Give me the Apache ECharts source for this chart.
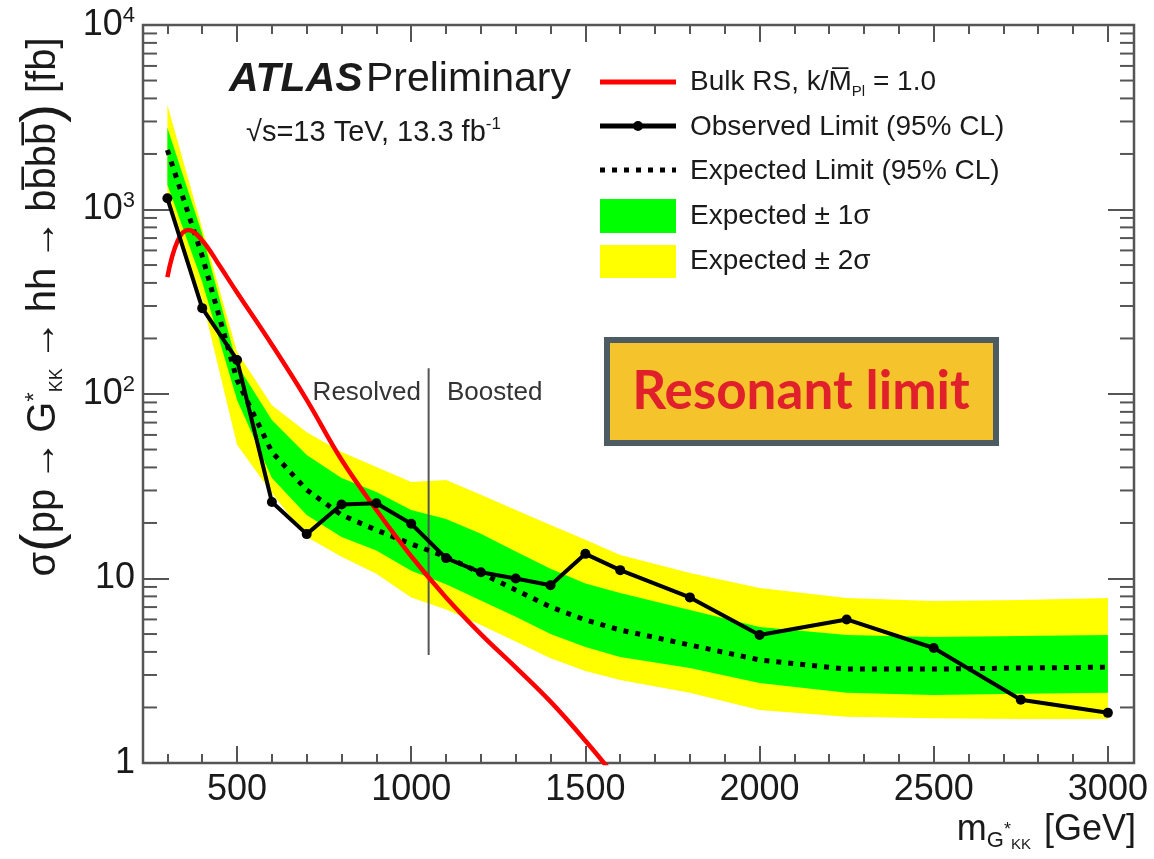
<!DOCTYPE html>
<html>
<head>
<meta charset="utf-8">
<script src="https://cdn.jsdelivr.net/npm/echarts@6/dist/echarts.min.js"></script>
<style>
  html, body { margin: 0; padding: 0; background: #ffffff; }
  #chart { width: 1154px; height: 859px; }
</style>
</head>
<body>
<div id="chart"></div>
<script>
// Graviton mass points (GeV) and 95% CL limits on sigma(pp -> G*KK -> hh -> bbbb) in fb
const massPoints    = [300, 400, 500, 600, 700, 800, 900, 1000, 1100, 1200, 1300, 1400, 1500, 1600, 1800, 2000, 2250, 2500, 2750, 3000];
const observedLimit = [1150, 292, 153, 26, 17.4, 25.2, 25.6, 19.8, 12.9, 10.8, 10.0, 9.2, 13.6, 11.1, 7.9, 4.94, 6.0, 4.2, 2.2, 1.87];
const expectedLimit = [2100, 560, 119, 48.5, 30.2, 22.1, 18.3, 15.4, 13.1, 10.7, 8.67, 7.01, 5.96, 5.26, 4.36, 3.62, 3.23, 3.23, 3.27, 3.31];
const oneSigmaUp    = [2770, 737, 144, 72.3, 46.7, 35.1, 29.4, 23.5, 21.0, 17.5, 14.0, 11.3, 9.4, 8.35, 6.75, 5.46, 4.94, 4.82, 4.88, 4.94];
const oneSigmaDown  = [1360, 405, 92.8, 35.1, 22.1, 16.8, 14.2, 11.0, 9.3, 7.6, 6.2, 5.0, 4.25, 3.75, 3.27, 2.71, 2.40, 2.34, 2.37, 2.40];
const twoSigmaUp    = [3700, 790, 169, 87, 62, 48.5, 40.2, 33.3, 34.2, 28.4, 23.5, 19.5, 16.2, 13.4, 10.7, 8.88, 7.84, 7.55, 7.65, 7.84];
const twoSigmaDown  = [1150, 323, 53, 29.1, 16.8, 13.1, 10.6, 7.9, 6.8, 5.6, 4.55, 3.7, 3.15, 2.82, 2.40, 1.94, 1.78, 1.75, 1.73, 1.73];

// Bulk RS theory prediction, k/M_Pl = 1.0
const bulkRSMass = [300, 330, 360, 400, 450, 500, 600, 700, 800, 900, 1000, 1100, 1200, 1300, 1400, 1500, 1600];
const bulkRSXsec = [430, 680, 775, 680, 495, 355, 185, 93, 44, 23.5, 13.2, 7.9, 5.0, 3.3, 2.15, 1.32, 0.78];

// Resolved / boosted analysis boundary
const boundaryMass = [1050, 1050];
const boundaryXsec = [138, 3.85];

// Axis ranges and tick values
const xRange = [230, 3075];
const yRange = [1, 10000];
const xMajorTicks = [500, 1000, 1500, 2000, 2500, 3000];
const xMinorTicks = [300, 400, 600, 700, 800, 900, 1100, 1200, 1300, 1400, 1600, 1700, 1800, 1900,
                     2100, 2200, 2300, 2400, 2600, 2700, 2800, 2900];
const yMinorTicks = [2, 3, 4, 5, 6, 7, 8, 9, 20, 30, 40, 50, 60, 70, 80, 90,
                     200, 300, 400, 500, 600, 700, 800, 900, 2000, 3000, 4000, 5000, 6000, 7000, 8000, 9000];

const FONT = '"Liberation Sans", Arial, Helvetica, sans-serif';
const AXIS = '#555555';
const TEXT = '#1a1a1a';

const chart = echarts.init(document.getElementById('chart'), null, { renderer: 'canvas' });

function pairs(xs, ys) { return xs.map((x, i) => [x, ys[i]]); }

function band(name, upper, lower, color, z) {
  return {
    type: 'custom', name, xAxisIndex: 0, yAxisIndex: 0, silent: true, z,
    data: [[massPoints[0], upper[0]]],
    renderItem: (params, api) => {
      const pts = [];
      for (let i = 0; i < massPoints.length; i++) pts.push(api.coord([massPoints[i], upper[i]]));
      for (let i = massPoints.length - 1; i >= 0; i--) pts.push(api.coord([massPoints[i], lower[i]]));
      return { type: 'polygon', shape: { points: pts }, style: { fill: color } };
    }
  };
}

function xAxisDef(position, ticks, len, labels) {
  return {
    type: 'value', position, min: xRange[0], max: xRange[1],
    axisLine: { show: false },
    splitLine: { show: false },
    axisTick: { show: true, inside: true, length: len, customValues: ticks, lineStyle: { color: AXIS, width: 2 } },
    axisLabel: labels ? {
      show: true, customValues: ticks, margin: 9, fontSize: 36, fontFamily: FONT, color: TEXT,
      formatter: v => String(Math.round(v))
    } : { show: false }
  };
}

const option = {
  animation: false,
  backgroundColor: '#ffffff',
  grid: {
    left: 143, top: 25, width: 991, height: 738,
    show: true, borderColor: AXIS, borderWidth: 2.5, backgroundColor: 'transparent'
  },
  xAxis: [
    xAxisDef('bottom', xMajorTicks, 17, true),
    xAxisDef('bottom', xMinorTicks, 9, false),
    xAxisDef('top', xMajorTicks, 17, false),
    xAxisDef('top', xMinorTicks, 9, false)
  ],
  yAxis: [
    {
      type: 'log', logBase: 10, position: 'left', min: yRange[0], max: yRange[1],
      axisLine: { show: false }, splitLine: { show: false },
      axisTick: { show: true, inside: true, length: 26, lineStyle: { color: AXIS, width: 2 } },
      axisLabel: {
        show: true, margin: 8, showMinLabel: true, showMaxLabel: true, color: TEXT,
        fontFamily: FONT, fontSize: 36,
        formatter: v => {
          const p = Math.round(Math.log10(v));
          return p < 2 ? '{n|' + Math.round(v) + '}' : '{n|10}{s|' + p + '}';
        },
        rich: {
          n: { fontSize: 36, fontFamily: FONT, color: TEXT, lineHeight: 40 },
          s: { fontSize: 22, fontFamily: FONT, color: TEXT, verticalAlign: 'top', lineHeight: 40 }
        }
      }
    },
    {
      type: 'log', logBase: 10, position: 'right', min: yRange[0], max: yRange[1],
      axisLine: { show: false }, splitLine: { show: false },
      axisTick: { show: true, inside: true, length: 26, lineStyle: { color: AXIS, width: 2 } },
      axisLabel: { show: false }
    }
  ],
  series: [
    band('Expected ± 2σ', twoSigmaUp, twoSigmaDown, '#ffff00', 1),
    band('Expected ± 1σ', oneSigmaUp, oneSigmaDown, '#00ff00', 2),
    {
      name: 'Expected Limit (95% CL)', type: 'line', z: 4,
      data: pairs(massPoints, expectedLimit), symbol: 'none',
      lineStyle: { color: '#000000', width: 5, type: [5, 7], cap: 'butt' }
    },
    {
      name: 'Bulk RS', type: 'line', z: 5, smooth: 0.4,
      data: pairs(bulkRSMass, bulkRSXsec), symbol: 'none',
      lineStyle: { color: '#ff0000', width: 4.5 }
    },
    {
      name: 'Observed Limit (95% CL)', type: 'line', z: 6,
      data: pairs(massPoints, observedLimit), symbol: 'circle', symbolSize: 10,
      itemStyle: { color: '#000000' }, lineStyle: { color: '#000000', width: 4 }
    },
    {
      name: 'boundary', type: 'line', z: 3,
      data: pairs(boundaryMass, boundaryXsec), symbol: 'none',
      lineStyle: { color: '#555555', width: 2 }
    },
    {
      // minor log ticks on the left and right frame edges
      name: 'yMinorTicks', type: 'custom', silent: true, z: 10,
      data: yMinorTicks.map(v => [xRange[0], v]),
      renderItem: (params, api) => {
        const v = api.value(1);
        const l = api.coord([xRange[0], v]);
        const r = api.coord([xRange[1], v]);
        return {
          type: 'group', children: [
            { type: 'line', shape: { x1: l[0], y1: l[1], x2: l[0] + 14, y2: l[1] }, style: { stroke: AXIS, lineWidth: 2 } },
            { type: 'line', shape: { x1: r[0], y1: r[1], x2: r[0] - 14, y2: r[1] }, style: { stroke: AXIS, lineWidth: 2 } }
          ]
        };
      }
    }
  ],
  graphic: [
    // experiment label
    {
      type: 'text', x: 229, y: 80, z: 20,
      style: {
        text: '{a|ATLAS} {b|Preliminary}', textVerticalAlign: 'middle',
        rich: {
          a: { fontSize: 41, fontFamily: FONT, fontWeight: 'bold', fontStyle: 'italic', fill: TEXT },
          b: { fontSize: 41, fontFamily: FONT, fill: TEXT }
        }
      }
    },
    {
      type: 'text', x: 246, y: 133, z: 20,
      style: {
        text: '{t|√s=13 TeV, 13.3 fb}{s|-1}', textVerticalAlign: 'middle',
        rich: {
          t: { fontSize: 29, fontFamily: FONT, fill: TEXT, lineHeight: 34 },
          s: { fontSize: 17, fontFamily: FONT, fill: TEXT, verticalAlign: 'top', lineHeight: 34 }
        }
      }
    },
    // legend
    { type: 'line', z: 20, shape: { x1: 600, y1: 82, x2: 676, y2: 82 }, style: { stroke: '#ff0000', lineWidth: 5 } },
    { type: 'line', z: 20, shape: { x1: 600, y1: 126, x2: 676, y2: 126 }, style: { stroke: '#000000', lineWidth: 5 } },
    { type: 'circle', z: 21, shape: { cx: 638, cy: 126, r: 5 }, style: { fill: '#000000' } },
    { type: 'line', z: 20, shape: { x1: 600, y1: 170, x2: 676, y2: 170 }, style: { stroke: '#000000', lineWidth: 5, lineDash: [5, 7] } },
    { type: 'rect', z: 20, shape: { x: 600, y: 199, width: 76, height: 34 }, style: { fill: '#00ff00' } },
    { type: 'rect', z: 20, shape: { x: 600, y: 245, width: 76, height: 33 }, style: { fill: '#ffff00' } },
    {
      type: 'text', x: 690, y: 82, z: 20,
      style: {
        text: '{t|Bulk RS, k/M\u0305}{s|Pl}{t| = 1.0}', textVerticalAlign: 'middle',
        rich: {
          t: { fontSize: 28, fontFamily: FONT, fill: TEXT, lineHeight: 34 },
          s: { fontSize: 15, fontFamily: FONT, fill: TEXT, verticalAlign: 'bottom', lineHeight: 34 }
        }
      }
    },
    { type: 'text', x: 690, y: 127, z: 20, style: { text: 'Observed Limit (95% CL)', font: '28px ' + FONT, fill: TEXT, textVerticalAlign: 'middle' } },
    { type: 'text', x: 690, y: 171, z: 20, style: { text: 'Expected Limit (95% CL)', font: '28px ' + FONT, fill: TEXT, textVerticalAlign: 'middle' } },
    { type: 'text', x: 690, y: 216, z: 20, style: { text: 'Expected ± 1σ', font: '28px ' + FONT, fill: TEXT, textVerticalAlign: 'middle' } },
    { type: 'text', x: 690, y: 261, z: 20, style: { text: 'Expected ± 2σ', font: '28px ' + FONT, fill: TEXT, textVerticalAlign: 'middle' } },
    // region labels either side of the boundary
    { type: 'text', x: 421, y: 393, z: 20, style: { text: 'Resolved', font: '26px ' + FONT, fill: '#333333', textAlign: 'right', textVerticalAlign: 'middle' } },
    { type: 'text', x: 447, y: 393, z: 20, style: { text: 'Boosted', font: '26px ' + FONT, fill: '#333333', textAlign: 'left', textVerticalAlign: 'middle' } },
    // highlighted caption
    { type: 'rect', z: 22, shape: { x: 607, y: 340, width: 389, height: 103 }, style: { fill: '#f5c42c', stroke: '#4d5b63', lineWidth: 6 } },
    {
      type: 'text', x: 801, y: 392, z: 23,
      style: { text: 'Resonant limit', font: 'bold 53px Lato, "Open Sans", sans-serif', fill: '#e0202a', textAlign: 'center', textVerticalAlign: 'middle' }
    },
    // x axis title
    {
      type: 'text', x: 1136, y: 830, z: 20,
      style: {
        text: '{t|m}{g|G}{st|*}{k|KK}{t| [GeV]}', textAlign: 'right', textVerticalAlign: 'middle',
        rich: {
          t: { fontSize: 36, fontFamily: FONT, fill: TEXT, lineHeight: 44 },
          g: { fontSize: 22, fontFamily: FONT, fill: TEXT, verticalAlign: 'bottom', lineHeight: 44 },
          st: { fontSize: 18, fontFamily: FONT, fill: TEXT, verticalAlign: 'middle', lineHeight: 44 },
          k: { fontSize: 15, fontFamily: FONT, fill: TEXT, verticalAlign: 'bottom', lineHeight: 44, padding: [0, 3, 0, 0] }
        }
      }
    },
    // y axis title
    {
      type: 'text', x: 44, y: 307, rotation: Math.PI / 2, z: 20,
      style: {
        text: '{t|σ}{p|(}{t|pp\u2009→\u2009G}{sp|*}{sb|KK}{t|\u2009→\u2009hh\u2009→\u2009bb\u0305bb\u0305}{p|)}{t| [fb]}',
        textAlign: 'center', textVerticalAlign: 'middle',
        rich: {
          t: { fontSize: 40, fontFamily: FONT, fill: TEXT, lineHeight: 56 },
          p: { fontSize: 56, fontFamily: FONT, fill: TEXT, lineHeight: 56 },
          sp: { fontSize: 24, fontFamily: FONT, fill: TEXT, verticalAlign: 'top', lineHeight: 56, padding: [7, 0, 0, 0] },
          sb: { fontSize: 18, fontFamily: FONT, fill: TEXT, verticalAlign: 'bottom', lineHeight: 56, padding: [0, 0, 6, 0] }
        }
      }
    }
  ]
};

chart.setOption(option);
</script>
</body>
</html>
